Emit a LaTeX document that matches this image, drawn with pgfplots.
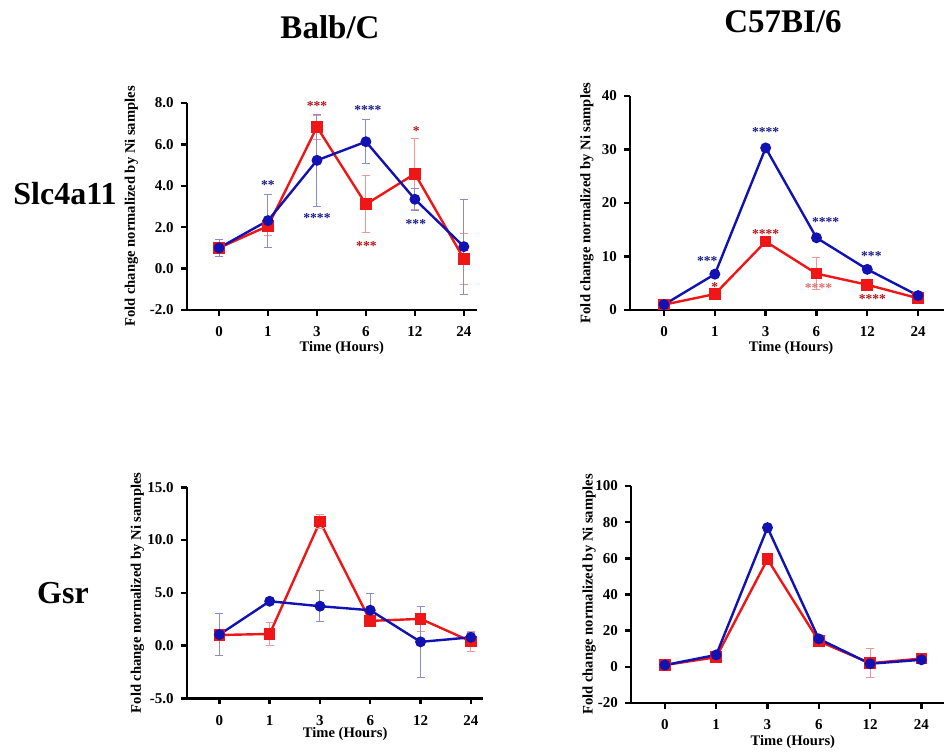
\documentclass[border=0pt]{standalone}
\usepackage{fontspec}
\setmainfont{Liberation Serif}
\usepackage{pgfplots}
\pgfplotsset{compat=1.18}
\usepackage{pgfplotstable}

\definecolor{bline}{RGB}{18,18,178}
\definecolor{rline}{RGB}{238,22,22}
\definecolor{berr}{RGB}{140,140,205}
\definecolor{rerr}{RGB}{240,150,150}
\definecolor{bstar}{RGB}{25,25,140}
\definecolor{rstar}{RGB}{185,20,20}
\definecolor{rstarl}{RGB}{220,110,110}

% x = index of time point (0,1,3,6,12,24 h), y = fold change, e = error
\pgfplotstableread{
x y e
0 1.00 0.43
1 2.32 1.28
2 5.23 2.23
3 6.13 1.05
4 3.35 0.52
5 1.06 2.29
}\balbSlcBlue
\pgfplotstableread{
x y e
0 1.00 0.40
1 2.06 0.48
2 6.84 0.58
3 3.11 1.38
4 4.58 1.71
5 0.47 1.23
}\balbSlcRed
\pgfplotstableread{
x y e
0 1.00 0.3
1 6.70 0.7
2 30.3 0.5
3 13.5 0.4
4 7.60 0.3
5 2.70 0.3
}\cSlcBlue
\pgfplotstableread{
x y e
0 1.00 0.4
1 2.98 0.95
2 12.8 0.3
3 6.80 3.05
4 4.72 0.4
5 2.20 0.6
}\cSlcRed
\pgfplotstableread{
x y e
0 1.04 2.0
1 4.20 0.15
2 3.73 1.45
3 3.35 1.55
4 0.35 3.35
5 0.78 0.5
}\balbGsrBlue
\pgfplotstableread{
x y e
0 1.00 0.3
1 1.10 1.10
2 11.75 0.70
3 2.34 0.55
4 2.53 1.20
5 0.40 0.95
}\balbGsrRed
\pgfplotstableread{
x y e
0 1.0 0.5
1 6.6 0.8
2 77.0 0.8
3 15.5 0.8
4 1.7 1.0
5 3.9 0.8
}\cGsrBlue
\pgfplotstableread{
x y e
0 1.0 0.5
1 5.3 0.8
2 59.5 0.8
3 14.2 0.8
4 2.0 8.0
5 4.6 0.8
}\cGsrRed

\pgfplotsset{
  panel/.style={
    scale only axis, anchor=south west, clip=false,
    axis x line=bottom, axis y line=left,
    axis line style={line width=1.2pt, -},
    tick style={line width=1.2pt, black},
    tick align=outside, major tick length=3pt,
    xtick={0,...,5}, xticklabels={0,1,3,6,12,24},
    tick label style={font=\fontsize{7.5}{8}\selectfont\bfseries},
    xticklabel style={anchor=center, yshift=-8pt},
    label style={font=\fontsize{7.3}{8}\selectfont\bfseries},
    xlabel={Time (Hours)},
    ylabel={Fold change normalized by Ni samples},
  },
  blueline/.style={color=bline, line width=1.2pt, mark=*, mark size=2.1pt,
    error bars/.cd, y dir=both, y explicit,
    error bar style={line width=0.5pt, color=berr},
    error mark options={line width=0.5pt, color=berr, mark size=2pt, rotate=90}},
  redline/.style={color=rline, line width=1.2pt, mark=square*, mark size=2.3pt,
    error bars/.cd, y dir=both, y explicit,
    error bar style={line width=0.5pt, color=rerr},
    error mark options={line width=0.5pt, color=rerr, mark size=2pt, rotate=90}},
}
\tikzset{star/.style={font=\fontsize{6.8}{7}\selectfont\bfseries, inner sep=0pt, yshift=-1pt}}

\begin{document}
\begin{tikzpicture}
\path[use as bounding box] (0,0) rectangle (473pt,376pt);

\node[font=\fontsize{16.5}{18}\selectfont\bfseries] at (165pt,362.5pt) {Balb/C};
\node[font=\fontsize{16.5}{18}\selectfont\bfseries] at (391.5pt,365pt) {C57BI/6};
\node[font=\fontsize{16}{18}\selectfont\bfseries] at (32.5pt,279pt) {Slc4a11};
\node[font=\fontsize{16}{18}\selectfont\bfseries] at (31.5pt,79.5pt) {Gsr};

% Balb/C, Slc4a11
\begin{axis}[panel, at={(93.35pt,221pt)}, width=145.2pt, height=103.5pt,
  xmin=-0.66, xmax=5.27, ymin=-2, ymax=8,
  ytick={-2,0,2,4,6,8}, yticklabels={-2.0,0.0,2.0,4.0,6.0,8.0},
  xlabel style={at={(axis description cs:0.534,0)}, anchor=center, yshift=-19pt},
  ylabel style={at={(axis description cs:-0.19,0.5)}, anchor=center}]
\addplot[redline] table[x=x, y=y, y error=e] {\balbSlcRed};
\addplot[blueline] table[x=x, y=y, y error=e] {\balbSlcBlue};
\node[star, bstar] at (axis cs:1,4.15) {**};
\node[star, rstar] at (axis cs:2,7.97) {***};
\node[star, bstar] at (axis cs:2,2.52) {****};
\node[star, bstar] at (axis cs:3.04,7.76) {****};
\node[star, rstar] at (axis cs:3.01,1.19) {***};
\node[star, rstar] at (axis cs:4.03,6.74) {*};
\node[star, bstar] at (axis cs:4.02,2.27) {***};
\end{axis}

% C57BI/6, Slc4a11
\begin{axis}[panel, at={(315pt,221pt)}, width=157pt, height=107pt,
  xmin=-0.67, xmax=5.51, ymin=0, ymax=40,
  ytick={0,10,20,30,40}, yticklabels={0,10,20,30,40},
  xlabel style={at={(axis description cs:0.513,0)}, anchor=center, yshift=-19pt},
  ylabel style={at={(axis description cs:-0.137,0.5)}, anchor=center}]
\addplot[redline] table[x=x, y=y, y error=e] {\cSlcRed};
\addplot[blueline] table[x=x, y=y, y error=e] {\cSlcBlue};
\node[star, bstar] at (axis cs:0.85,9.6) {***};
\node[star, rstar] at (axis cs:1,4.7) {*};
\node[star, bstar] at (axis cs:2,33.6) {****};
\node[star, rstar] at (axis cs:2,14.6) {****};
\node[star, bstar] at (axis cs:3.18,16.8) {****};
\node[star, rstarl] at (axis cs:3.04,4.4) {****};
\node[star, bstar] at (axis cs:4.08,10.5) {***};
\node[star, rstar] at (axis cs:4.1,2.36) {****};
\end{axis}

% Balb/C, Gsr
\begin{axis}[panel, at={(93.35pt,26.85pt)}, width=148.35pt, height=105.5pt,
  xmin=-0.65, xmax=5.25, ymin=-5, ymax=15,
  ytick={-5,0,5,10,15}, yticklabels={-5.0,0.0,5.0,10.0,15.0},
  xlabel style={at={(axis description cs:0.534,0)}, anchor=center, yshift=-18pt},
  ylabel style={at={(axis description cs:-0.166,0.5)}, anchor=center}]
\addplot[redline] table[x=x, y=y, y error=e] {\balbGsrRed};
\addplot[blueline] table[x=x, y=y, y error=e] {\balbGsrBlue};
\end{axis}

% C57BI/6, Gsr
\begin{axis}[panel, at={(315.5pt,24.5pt)}, width=156.5pt, height=108.5pt,
  xmin=-0.66, xmax=5.44, ymin=-20, ymax=100,
  ytick={-20,0,20,40,60,80,100}, yticklabels={-20,0,20,40,60,80,100},
  xlabel style={at={(axis description cs:0.517,0)}, anchor=center, yshift=-19.5pt},
  ylabel style={at={(axis description cs:-0.134,0.5)}, anchor=center}]
\addplot[redline] table[x=x, y=y, y error=e] {\cGsrRed};
\addplot[blueline] table[x=x, y=y, y error=e] {\cGsrBlue};
\end{axis}
\end{tikzpicture}
\end{document}
